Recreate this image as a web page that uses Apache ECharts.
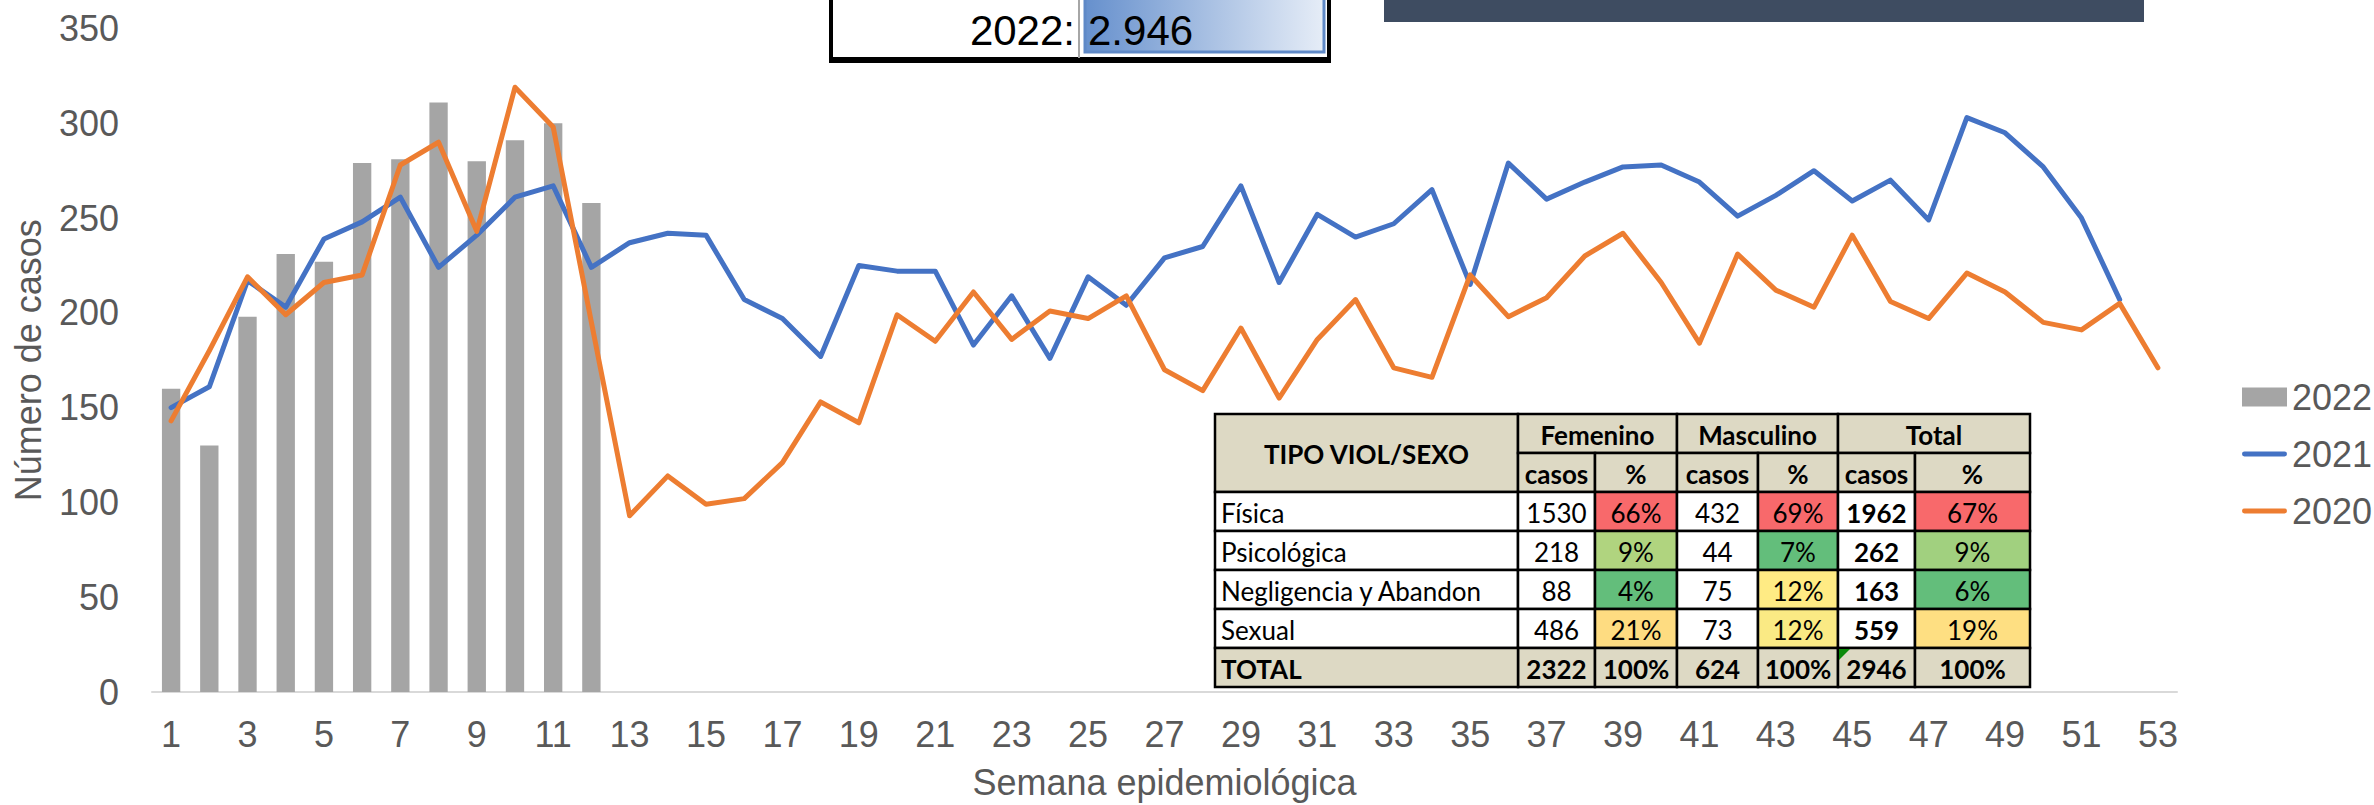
<!DOCTYPE html>
<html>
<head>
<meta charset="utf-8">
<title>Casos por semana epidemiológica</title>
<script src="https://cdn.jsdelivr.net/npm/echarts@6/dist/echarts.min.js"></script>
<style>
  html, body { margin: 0; padding: 0; background: #fff; }
  #chart { width: 2374px; height: 805px; }
</style>
</head>
<body>
<div id="chart"></div>
<script>
// semanas epidemiologicas 1..53
const semanas = Array.from({ length: 53 }, (_, i) => String(i + 1));

// casos por semana
const casos2022 = [160, 130, 198, 231, 227, 279, 281, 311, 280, 291, 300, 258];
const casos2021 = [150, 161, 217, 203, 239, 248, 261, 224, 241, 261, 267, 224, 237,
  242, 241, 207, 197, 177, 225, 222, 222, 183, 209, 176, 219, 204,
  229, 235, 267, 216, 252, 240, 247, 265, 215, 279, 260, 269, 277, 278,
  269, 251, 262, 275, 259, 270, 249, 303, 295, 277, 250, 207];
const casos2020 = [143, 180, 219, 199, 216, 220, 278, 290, 243, 319, 298, 195, 93,
  114, 99, 102, 121, 153, 142, 199, 185, 211, 186, 201, 197, 209,
  170, 159, 192, 155, 186, 207, 171, 166, 220, 198, 208, 230, 242, 216,
  184, 231, 212, 203, 241, 206, 197, 221, 211, 195, 191, 205, 171];

// tabla tipo de violencia / sexo (2022)
const tiposViolencia = ['Física', 'Psicológica', 'Negligencia y Abandon', 'Sexual'];
const femeninoCasos = [1530, 218, 88, 486];
const masculinoCasos = [432, 44, 75, 73];

const FONT = '"Liberation Sans", Arial, sans-serif';
const TFONT = 'Lato, "Noto Sans", sans-serif';

const chart = echarts.init(document.getElementById('chart'), null, { renderer: 'svg' });

const sum = (a) => a.reduce((s, v) => s + v, 0);
const totalCasos = femeninoCasos.map((v, i) => v + masculinoCasos[i]);
const grupos = [
  { name: 'Femenino', casos: femeninoCasos },
  { name: 'Masculino', casos: masculinoCasos },
  { name: 'Total', casos: totalCasos },
];

// escala de color tipo excel: verde (min) - amarillo (mediana) - rojo (max)
function escala(vals) {
  const s = vals.slice().sort((a, b) => a - b);
  const min = s[0], max = s[s.length - 1];
  const med = (s[1] + s[2]) / 2;
  const G = [99, 190, 123], Y = [255, 235, 132], R = [248, 105, 107];
  const mix = (a, b, t) => 'rgb(' + a.map((c, k) => Math.round(c + (b[k] - c) * t)).join(',') + ')';
  return vals.map((v) => v <= med ? mix(G, Y, (v - min) / (med - min)) : mix(Y, R, (v - med) / (max - med)));
}

function miles(n) {
  return String(n).replace(/\B(?=(\d{3})+(?!\d))/g, '.');
}

// ---- tabla como elementos graficos ----
const colX = [1215, 1518, 1595, 1677, 1758, 1838, 1915, 2030];
const rowY = [414, 453, 492, 531, 570, 609, 648, 687];
const HEAD = '#DDD9C4';
const tabla = [];

function celda(c0, c1, r0, r1, fill, text, opts) {
  opts = opts || {};
  const x = colX[c0], y = rowY[r0], w = colX[c1] - x, h = rowY[r1] - y;
  tabla.push({
    type: 'rect', silent: true,
    shape: { x: x, y: y, width: w, height: h },
    style: { fill: fill, stroke: '#000', lineWidth: 2.5 }
  });
  if (text !== undefined) {
    const left = opts.align === 'left';
    tabla.push({
      type: 'text', silent: true,
      style: {
        text: text,
        x: left ? x + 6 : x + w / 2,
        y: y + h / 2 + 1,
        textAlign: left ? 'left' : 'center',
        verticalAlign: 'middle',
        font: (opts.bold ? 'bold ' : '') + '26px ' + TFONT,
        fill: '#000'
      }
    });
  }
}

celda(0, 1, 0, 2, HEAD, 'TIPO VIOL/SEXO', { bold: true });
grupos.forEach((g, gi) => {
  celda(1 + 2 * gi, 3 + 2 * gi, 0, 1, HEAD, g.name, { bold: true });
  celda(1 + 2 * gi, 2 + 2 * gi, 1, 2, HEAD, 'casos', { bold: true });
  celda(2 + 2 * gi, 3 + 2 * gi, 1, 2, HEAD, '%', { bold: true });
});
tiposViolencia.forEach((t, r) => {
  celda(0, 1, 2 + r, 3 + r, '#fff', t, { align: 'left' });
});
grupos.forEach((g, gi) => {
  const tot = sum(g.casos);
  const colores = escala(g.casos.map((v) => v / tot));
  g.casos.forEach((v, r) => {
    celda(1 + 2 * gi, 2 + 2 * gi, 2 + r, 3 + r, '#fff', String(v), { bold: gi === 2 });
    celda(2 + 2 * gi, 3 + 2 * gi, 2 + r, 3 + r, colores[r], Math.round(v / tot * 100) + '%');
  });
  celda(1 + 2 * gi, 2 + 2 * gi, 6, 7, HEAD, String(tot), { bold: true });
  celda(2 + 2 * gi, 3 + 2 * gi, 6, 7, HEAD, '100%', { bold: true });
});
celda(0, 1, 6, 7, HEAD, 'TOTAL', { bold: true, align: 'left' });
// indicador verde de excel
tabla.push({
  type: 'polygon', silent: true,
  shape: { points: [[colX[5] + 1, rowY[6] + 1], [colX[5] + 12, rowY[6] + 1], [colX[5] + 1, rowY[6] + 12]] },
  style: { fill: '#0B8A0B' }
});

// ---- cuadro superior "2022: 2.946" ----
const cuadro = [
  { type: 'rect', silent: true, shape: { x: 1384, y: 0, width: 760, height: 22 }, style: { fill: '#3E4C61' } },
  { type: 'rect', silent: true, shape: { x: 831, y: -10, width: 498, height: 70 }, style: { fill: '#fff', stroke: '#000', lineWidth: 4 } },
  { type: 'rect', silent: true, shape: { x: 829, y: 57, width: 502, height: 6 }, style: { fill: '#000' } },
  {
    type: 'rect', silent: true,
    shape: { x: 1085, y: -4, width: 239, height: 56 },
    style: {
      fill: new echarts.graphic.LinearGradient(0, 0, 1, 0, [
        { offset: 0, color: '#6690CD' }, { offset: 1, color: '#E6EDF7' }
      ]),
      stroke: '#5F89C7', lineWidth: 3
    }
  },
  { type: 'line', silent: true, shape: { x1: 1079, y1: -2, x2: 1079, y2: 58 }, style: { stroke: '#A6A6A6', lineWidth: 2 } },
  {
    type: 'text', silent: true,
    style: { text: '2022:', x: 1075, y: 30, textAlign: 'right', verticalAlign: 'middle', font: '42px ' + FONT, fill: '#000' }
  },
  {
    type: 'text', silent: true,
    style: { text: miles(sum(casos2022)), x: 1088, y: 30, textAlign: 'left', verticalAlign: 'middle', font: '42px ' + FONT, fill: '#000' }
  }
];

// icono de linea para la leyenda (sin marcador)
const iconoLinea = 'path://M2,0 L43,0 A2.5,2.5 0 0 1 43,5 L2,5 A2.5,2.5 0 0 1 2,0 Z';

const option = {
  animation: false,
  backgroundColor: '#fff',
  grid: { left: 152, right: 197, top: 28.5, bottom: 113, outerBoundsMode: 'none' },
  legend: {
    orient: 'vertical',
    left: 2237,
    top: 374,
    itemWidth: 45,
    itemHeight: 19,
    itemGap: 21,
    data: [
      { name: '2022', icon: 'rect' },
      { name: '2021', icon: iconoLinea },
      { name: '2020', icon: iconoLinea }
    ],
    textStyle: { fontFamily: FONT, fontSize: 36, color: '#595959' }
  },
  xAxis: {
    type: 'category',
    data: semanas,
    boundaryGap: true,
    name: 'Semana epidemiológica',
    nameLocation: 'middle',
    nameGap: 72,
    nameTextStyle: { fontFamily: FONT, fontSize: 36, color: '#595959' },
    axisLine: { lineStyle: { color: '#D9D9D9', width: 2 } },
    axisTick: { show: false },
    axisLabel: { interval: 1, margin: 24, fontFamily: FONT, fontSize: 36, color: '#595959' },
    splitLine: { show: false }
  },
  yAxis: {
    type: 'value',
    min: 0,
    max: 350,
    interval: 50,
    name: 'Número de casos',
    nameLocation: 'middle',
    nameRotate: 90,
    nameGap: 106,
    nameTextStyle: { fontFamily: FONT, fontSize: 36, color: '#595959' },
    axisLine: { show: false },
    axisTick: { show: false },
    axisLabel: { margin: 33, fontFamily: FONT, fontSize: 36, color: '#595959' },
    splitLine: { show: false }
  },
  series: [
    {
      name: '2022',
      type: 'bar',
      data: casos2022,
      barWidth: '48%',
      itemStyle: { color: '#A5A5A5' }
    },
    {
      name: '2021',
      type: 'line',
      data: casos2021,
      symbol: 'none',
      lineStyle: { color: '#4472C4', width: 5, cap: 'round', join: 'round' },
      itemStyle: { color: '#4472C4' }
    },
    {
      name: '2020',
      type: 'line',
      data: casos2020,
      symbol: 'none',
      lineStyle: { color: '#ED7D31', width: 5, cap: 'round', join: 'round' },
      itemStyle: { color: '#ED7D31' }
    }
  ],
  graphic: cuadro.concat(tabla)
};

chart.setOption(option);
</script>
</body>
</html>
